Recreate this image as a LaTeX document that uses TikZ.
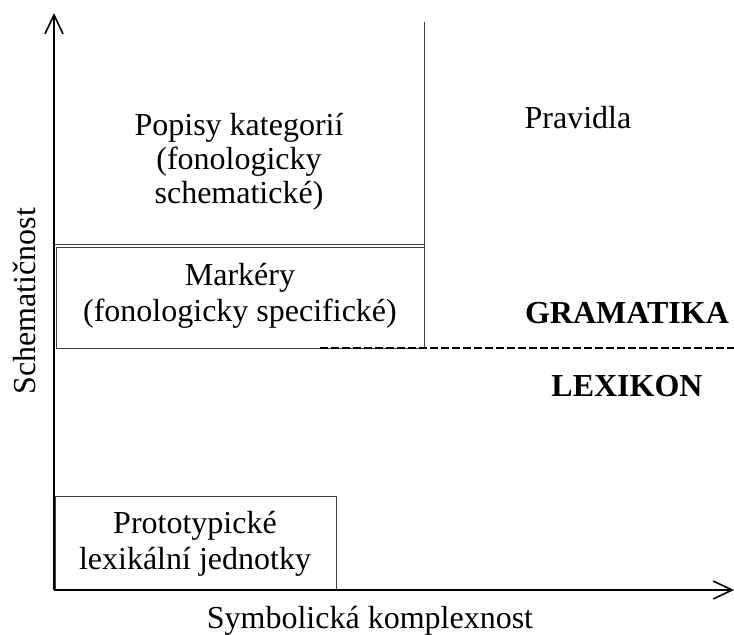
\documentclass[tikz,border=0pt]{standalone}
\usepackage{fontspec}
\setmainfont{Liberation Serif}
\usetikzlibrary{arrows.meta}
\begin{document}
\begin{tikzpicture}[x=0.5pt,y=-0.5pt,
  ax/.style={line width=1pt,-{Straight Barb[length=9.5pt,width=9pt,line width=0.8pt]}},
  thinline/.style={black!75,line width=0.4pt},
  lbl/.style={inner sep=0pt,align=center,font=\fontsize{16}{18}\selectfont}]
\useasboundingbox (0,0) rectangle (734,634);

% regions
\draw[thinline] (55,244) -- (424,244) (424,22) -- (424,348);
\draw[thinline] (56,247) rectangle (424,348);
\draw[thinline] (55,496) rectangle (336,590);
\draw[line width=0.7pt,dash pattern=on 4pt off 1.5pt] (320,348) -- (734,348);

% axes
\coordinate (origin) at (54,590);
\coordinate (ytop) at (54,13);
\coordinate (xend) at (734,590);
\draw[ax] (origin) -- (ytop);
\draw[ax] (origin) -- (xend);

% labels
\node[lbl,font=\fontsize{16}{17}\selectfont] (popisy) at (239,162) {Popisy kategorií\\(fonologicky\\schematické)};
\node[lbl] (markery) at (240,296) {Markéry\\(fonologicky specifické)};
\node[lbl] (proto) at (195,544) {Prototypické\\lexikální jednotky};
\node[lbl,anchor=base] (pravidla) at (578,128) {Pravidla};
\node[lbl,anchor=base,font=\fontsize{16}{18}\selectfont\bfseries] (gram) at (627,323) {GRAMATIKA};
\node[lbl,anchor=base,font=\fontsize{16}{18}\selectfont\bfseries] (lex) at (627,396) {LEXIKON};
\node[lbl,anchor=base] (xlabel) at (370,628) {Symbolická komplexnost};
\node[lbl,rotate=90,anchor=base] (ylabel) at (35,301) {Schematičnost};
\end{tikzpicture}
\end{document}
